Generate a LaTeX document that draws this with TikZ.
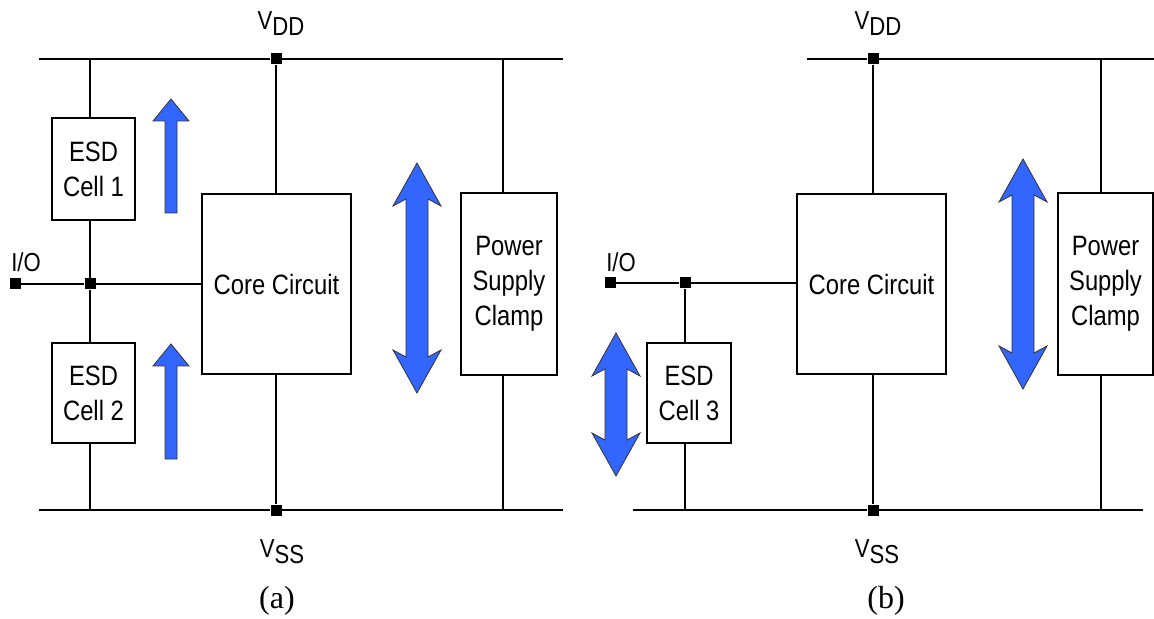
\documentclass[tikz,border=0pt]{standalone}
\usepackage{fontspec}
\setmainfont{Liberation Serif}
\newfontfamily\narrowsans[FakeStretch=0.85]{Liberation Sans}
\usetikzlibrary{positioning}
\definecolor{flowblue}{RGB}{51,102,255}

\tikzset{
    cellbox/.style={draw, line width=0.9pt, fill=white, inner sep=0pt, align=center,
        font=\narrowsans\fontsize{14}{17.5}\selectfont},
    pad/.style={fill=black, inner sep=0pt, minimum size=5.5pt},
    wire/.style={line width=0.9pt},
    flow/.style={fill=flowblue, draw=black!80, line width=0.4pt},
    railtext/.style={font=\narrowsans\fontsize{13}{15}\selectfont},
    captext/.style={font=\fontsize{16}{18}\selectfont},
}
% supply name with lowered index
\newcommand{\railname}[2]{#1\raisebox{-3pt}{#2}}
% one-way current arrow: centre x, tip y, tail y
\newcommand{\flowup}[3]{%
    \filldraw[flow] (#1,#2) -- (#1+18,#2+22) -- (#1+6,#2+22) -- (#1+6,#3)
        -- (#1-6,#3) -- (#1-6,#2+22) -- (#1-18,#2+22) -- cycle;}
% two-way current arrow: centre x, top tip y, bottom tip y
\newcommand{\flowboth}[3]{%
    \filldraw[flow] (#1,#2) -- (#1+24,#2+43) -- (#1+11,#2+36) -- (#1+11,#3-36)
        -- (#1+24,#3-43) -- (#1,#3) -- (#1-24,#3-43) -- (#1-11,#3-36)
        -- (#1-11,#2+36) -- (#1-24,#2+43) -- cycle;}

\begin{document}
\begin{tikzpicture}[x=0.5pt, y=-0.5pt]
    \useasboundingbox (0,0) rectangle (1154,619);

    % Left circuit (a)
    \coordinate (vddaL) at (39,59);
    \coordinate (vddaR) at (563,59);
    \coordinate (vssaL) at (39,510);
    \coordinate (vssaR) at (563,510);

    % Blocks
    \node[cellbox, minimum width=41.5pt, minimum height=51pt] (esd1) at (93.5,169) {ESD\\Cell 1};
    \node[cellbox, minimum width=41.5pt, minimum height=50pt] (esd2) at (93.5,393) {ESD\\Cell 2};
    \node[cellbox, minimum width=74.5pt, minimum height=90pt] (corea) at (276.5,284) {Core Circuit};
    \node[cellbox, minimum width=48pt, minimum height=91pt] (clampa) at (509,284) {Power\\Supply\\Clamp};

    % Pads and junctions
    \node[pad] (vdda) at (276,59) {};
    \node[pad] (vssa) at (276,510) {};
    \node[pad] (ioa) at (15,284) {};
    \node[pad] (ja) at (90,284) {};

    % Rails
    \draw[wire] (vddaL) -- (vdda) -- (vddaR);
    \draw[wire] (vssaL) -- (vssa) -- (vssaR);

    % Wires
    \draw[wire] (vdda) -- (vdda |- corea.north);
    \draw[wire] (vssa) -- (vssa |- corea.south);
    \draw[wire] (ja |- vddaL) -- (ja |- esd1.north);
    \draw[wire] (ja |- esd1.south) -- (ja) -- (ja |- esd2.north);
    \draw[wire] (ja |- esd2.south) -- (ja |- vssaL);
    \draw[wire] (ioa) -- (ja) -- (ja -| corea.west);
    \draw[wire] ([xshift=-3pt]clampa.north) -- ([xshift=-3pt]clampa.north |- vddaR);
    \draw[wire] ([xshift=-3pt]clampa.south) -- ([xshift=-3pt]clampa.south |- vssaR);

    % Current paths
    \flowup{171}{99}{213}
    \flowup{171}{344}{459}
    \flowboth{417}{163}{393}

    % Labels
    \node[railtext] (vddlbla) at (281,24) {\railname{V}{DD}};
    \node[railtext] (vsslbla) at (282,552) {\railname{V}{SS}};
    \node[railtext] (iolbla) at (26,262) {I/O};
    \node[captext] (capa) at (277,601) {(a)};

    % Right circuit (b)
    \coordinate (vddbL) at (807,59);
    \coordinate (vddbR) at (1154,59);
    \coordinate (vssbL) at (633,510);
    \coordinate (vssbR) at (1143,510);

    % Blocks
    \node[cellbox, minimum width=42pt, minimum height=50pt] (esd3) at (689,393) {ESD\\Cell 3};
    \node[cellbox, minimum width=74.5pt, minimum height=90pt] (coreb) at (871.5,284) {Core Circuit};
    \node[cellbox, minimum width=47.5pt, minimum height=91pt] (clampb) at (1105.5,284) {Power\\Supply\\Clamp};

    % Pads and junctions
    \node[pad] (vddb) at (873,59) {};
    \node[pad] (vssb) at (873,510) {};
    \node[pad] (iob) at (610,283) {};
    \node[pad] (jb) at (685,283) {};

    % Rails
    \draw[wire] (vddbL) -- (vddb) -- (vddbR);
    \draw[wire] (vssbL) -- (vssb) -- (vssbR);

    % Wires
    \draw[wire] (vddb) -- (vddb |- coreb.north);
    \draw[wire] (vssb) -- (vssb |- coreb.south);
    \draw[wire] (iob) -- (jb) -- (jb -| coreb.west);
    \draw[wire] (jb) -- (jb |- esd3.north);
    \draw[wire] (jb |- esd3.south) -- (jb |- vssbL);
    \draw[wire] ([xshift=-2.25pt]clampb.north) -- ([xshift=-2.25pt]clampb.north |- vddbR);
    \draw[wire] ([xshift=-2.25pt]clampb.south) -- ([xshift=-2.25pt]clampb.south |- vssbR);

    % Current paths
    \flowboth{616}{333}{476}
    \flowboth{1023}{159}{389}

    % Labels
    \node[railtext] (vddlblb) at (878,24) {\railname{V}{DD}};
    \node[railtext] (vsslblb) at (877,552) {\railname{V}{SS}};
    \node[railtext] (iolblb) at (621,262) {I/O};
    \node[captext] (capb) at (886,601) {(b)};
\end{tikzpicture}
\end{document}
